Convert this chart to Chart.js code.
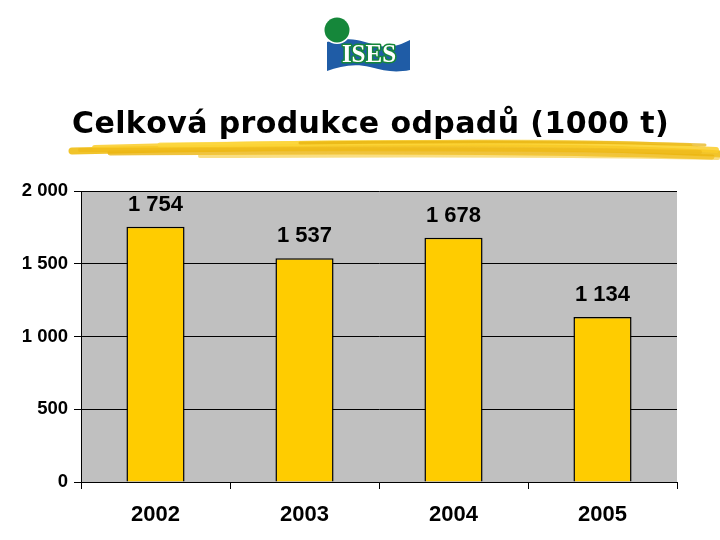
<!DOCTYPE html>
<html><head><meta charset="utf-8">
<script src="https://cdn.jsdelivr.net/npm/chart.js@4"></script>
<style>html,body{margin:0;padding:0;background:#fff;}#wrap{width:720px;height:540px;position:relative;}</style>
</head><body><div id="wrap"><canvas id="c" width="720" height="540"></canvas></div>
<script>
const titleText = "Celková produkce odpadů (1000 t)";
const categories = ["2002", "2003", "2004", "2005"];
const values = [1754, 1537, 1678, 1134];
const yTicks = [0, 500, 1000, 1500, 2000];

function fmt(v){ return String(v).replace(/\B(?=(\d{3})+(?!\d))/g, " "); }

const decor = {
  id: 'decor',
  beforeDraw(chart){
    const ctx = chart.ctx, a = chart.chartArea;
    ctx.save();
    ctx.fillStyle = '#fff'; ctx.fillRect(0,0,chart.width,chart.height);
    ctx.fillStyle = '#C0C0C0';
    ctx.fillRect(a.left, a.top, a.right - a.left, a.bottom - a.top);
    // logo
    ctx.fillStyle = '#1F5CA6';
    ctx.beginPath();
    ctx.moveTo(327,42);
    ctx.bezierCurveTo(345,36,360,40,375,45);
    ctx.bezierCurveTo(390,49,400,45,410,40);
    ctx.lineTo(410,70);
    ctx.bezierCurveTo(395,73,385,71,370,67);
    ctx.bezierCurveTo(355,63,340,66,327,71);
    ctx.closePath(); ctx.fill();
    ctx.beginPath(); ctx.arc(337,30,14,0,Math.PI*2); ctx.fillStyle='#fff'; ctx.fill();
    ctx.beginPath(); ctx.arc(337,30,12.5,0,Math.PI*2); ctx.fillStyle='#15873A'; ctx.fill();
    ctx.font = 'bold 25px "Liberation Serif"';
    ctx.textAlign='center'; ctx.textBaseline='middle';
    ctx.lineWidth = 3; ctx.strokeStyle = '#15873A'; ctx.lineJoin='round';
    ctx.strokeText('ISES', 369, 56);
    ctx.fillStyle='#fff'; ctx.fillText('ISES', 369, 56);
    // title
    ctx.font = 'bold 30px "DejaVu Sans"';
    ctx.fillStyle = '#000';
    ctx.textAlign='left'; ctx.textBaseline='alphabetic';
    const w0 = ctx.measureText(titleText).width;
    const sp = Math.max(0, (596 - w0) / (titleText.length - 1));
    let x = 72;
    for (const ch of titleText){
      ctx.fillText(ch, x, 133);
      x += ctx.measureText(ch).width + sp;
    }
    // brush stroke
    const strokes = [
      ['rgba(240,190,20,0.9)', 72,151, 300,146, 560,144, 720,154, 7],
      ['rgba(250,205,40,0.85)', 95,148, 330,141, 600,142, 716,150, 6],
      ['rgba(235,180,15,0.8)', 110,153, 350,151, 580,152, 712,157, 5],
      ['rgba(252,215,60,0.7)', 160,145, 380,142, 560,140, 690,146, 5],
      ['rgba(238,186,25,0.75)', 80,150, 250,149, 500,148, 700,152, 4],
      ['rgba(245,200,50,0.6)', 200,156, 400,155, 600,155, 718,158, 4],
      ['rgba(230,175,10,0.7)', 300,143, 450,141, 600,141, 705,145, 3]
    ];
    ctx.lineCap='round';
    for (const s of strokes){
      ctx.strokeStyle = s[0]; ctx.lineWidth = s[9];
      ctx.beginPath(); ctx.moveTo(s[1],s[2]);
      ctx.bezierCurveTo(s[3],s[4],s[5],s[6],s[7],s[8]); ctx.stroke();
    }
    ctx.restore();
  },
  afterDatasetsDraw(chart){
    const ctx = chart.ctx;
    const meta = chart.getDatasetMeta(0);
    ctx.save();
    ctx.font = 'bold 22px "Liberation Sans"';
    ctx.fillStyle = '#000'; ctx.textAlign='center'; ctx.textBaseline='middle';
    meta.data.forEach((el,i)=>{
      ctx.fillText(fmt(values[i]), el.x, el.y - 22);
    });
    ctx.restore();
  }
};

new Chart(document.getElementById('c'), {
  type: 'bar',
  data: { labels: categories, datasets: [{ data: values, backgroundColor: '#FFCC00', borderColor: '#000', borderWidth: 1.5, barPercentage: 0.78, categoryPercentage: 0.5 }] },
  options: {
    responsive: false, animation: false,
    layout: { padding: { left: 0, top: 191, right: 43, bottom: 0 } },
    plugins: { legend: { display: false }, tooltip: { enabled: false }, title: { display: false } },
    scales: {
      x: {
        offset: true,
        grid: { offset: true, drawOnChartArea: false, color: '#000', tickLength: 7, tickColor: '#000' },
        border: { color: '#000', width: 1 },
        ticks: { color: '#000', font: { family: 'Liberation Sans', weight: 'bold', size: 22 }, padding: 13 },
        afterFit(s){ s.height = 58; }
      },
      y: {
        min: 0, max: 2000,
        afterBuildTicks(s){ s.ticks = yTicks.map(v=>({value:v})); },
        grid: { color: '#000', lineWidth: 1, tickLength: 7, tickColor: '#000' },
        border: { color: '#000', width: 1 },
        ticks: { color: '#000', font: { family: 'Liberation Sans', weight: 'bold', size: 18.5 }, padding: 6, callback: v => fmt(v) },
        afterFit(s){ s.width = 81; }
      }
    }
  },
  plugins: [decor]
});
</script></body></html>
